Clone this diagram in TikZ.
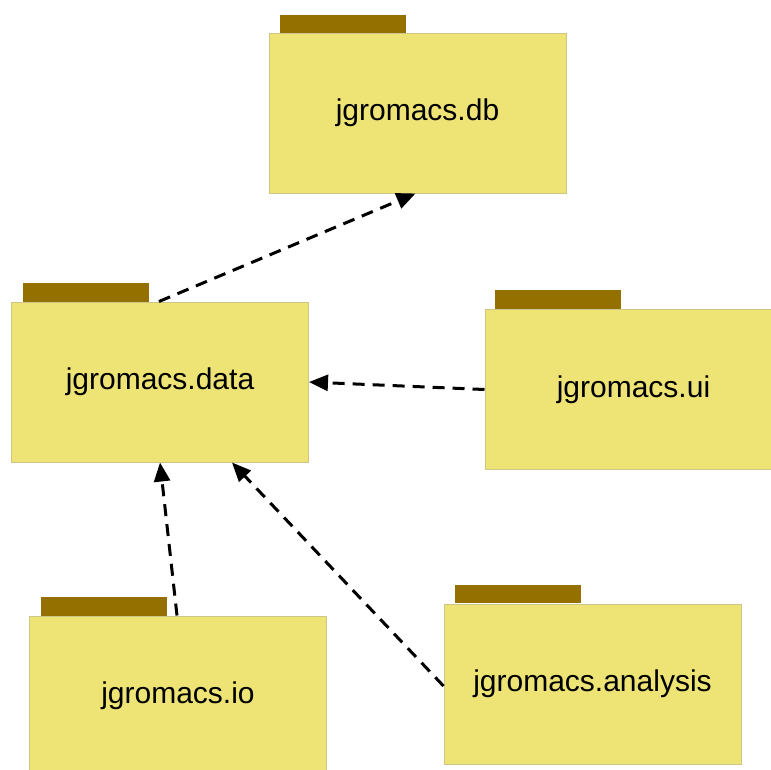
\documentclass[tikz,border=0pt]{standalone}
\usepackage{fontspec}
\setmainfont{Liberation Sans}
\usetikzlibrary{arrows.meta,calc}
\definecolor{folderbody}{HTML}{EEE476}
\definecolor{folderedge}{HTML}{CEC685}
\definecolor{foldertab}{HTML}{947000}
\tikzset{
  folder/.style={draw=folderedge, line width=1pt, fill=folderbody, minimum width=297pt, minimum height=160pt, inner sep=0pt, font=\fontsize{30}{36}\selectfont},
  foldertabbox/.style={fill=foldertab, draw=none},
  dep/.style={line width=3pt, dash pattern=on 12pt off 8pt, -{Triangle[length=19pt,width=16pt]}}
}
\begin{document}
\begin{tikzpicture}[x=1pt,y=-1pt]
\useasboundingbox (0,0) rectangle (771,769);
% tabs
\fill[foldertab] (280,15) rectangle (406,33);
\fill[foldertab] (23,283) rectangle (149,302);
\fill[foldertab] (495,290) rectangle (621,309);
\fill[foldertab] (455,585) rectangle (581,603);
\fill[foldertab] (41,597) rectangle (167,616);
% bodies
\node[folder] (db) at (417.5,113) {jgromacs.db};
\node[folder] (data) at (160,382) {jgromacs.data};
\node[folder] (ui) at (633.5,389.5) {jgromacs.ui};
\node[folder] (analysis) at (592.5,684) {jgromacs.analysis};
\node[folder] (io) at (178,696) {jgromacs.io};
% dependencies
\draw[dep] ($(data.north west)+(148,0)$) -- ($(db.south west)+(147,0)$);
\draw[dep] (ui.west) -- (data.east);
\draw[dep] ($(io.north west)+(148,0)$) -- (data.south);
\draw[dep] ($(analysis.west)+(0,2)$) -- ($(data.south west)+(221,0)$);
\end{tikzpicture}
\end{document}
